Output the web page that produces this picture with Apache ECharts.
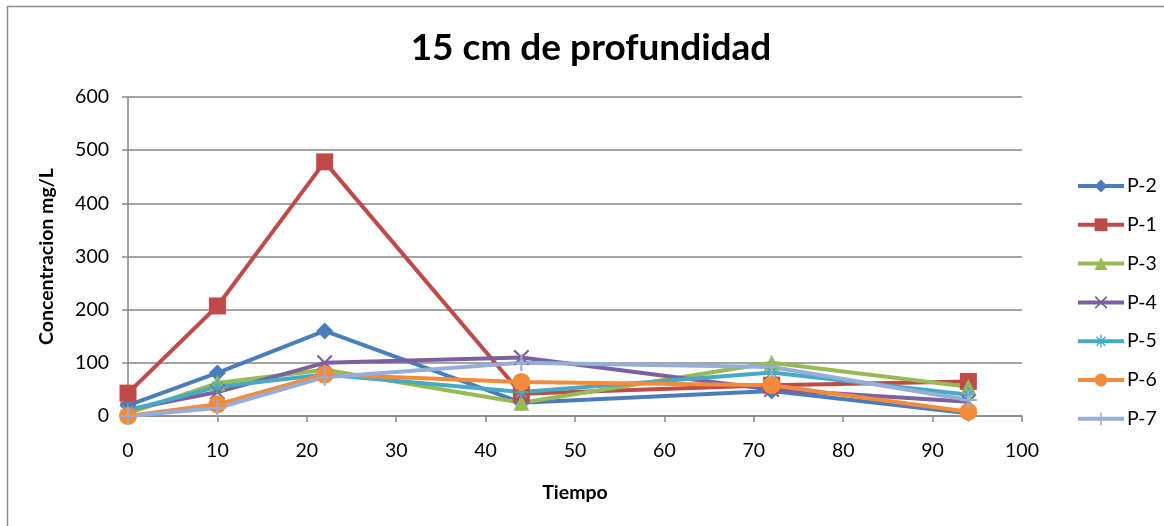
<!DOCTYPE html>
<html>
<head>
<meta charset="utf-8">
<script src="https://cdn.jsdelivr.net/npm/echarts@6/dist/echarts.min.js"></script>
<style>
  html, body { margin: 0; padding: 0; background: #fff; }
  #chart { width: 1164px; height: 526px; }
</style>
</head>
<body>
<div id="chart"></div>
<script>
// 数据 (tiempo / concentracion)
const tiempo = [0, 10, 22, 44, 72, 94]
const seriesNames = ['P-2', 'P-1', 'P-3', 'P-4', 'P-5', 'P-6', 'P-7']
const p2 = [20, 81, 160, 25, 47, 5]
const p1 = [43, 207, 478, 42, 58, 65]
const p3 = [5, 62, 87, 25, 100, 55]
const p4 = [12, 45, 100, 110, 50, 27]
const p5 = [10, 55, 78, 45, 82, 40]
const p6 = [0, 22, 78, 64, 58, 8]
const p7 = [0, 15, 73, 100, 92, 30]
const yTicks = [0, 100, 200, 300, 400, 500, 600]
const xTicks = [0, 10, 20, 30, 40, 50, 60, 70, 80, 90, 100]

const colors = ['#4A7EBB', '#BE4B48', '#98B954', '#7D60A0', '#46AAC5', '#F38B3C', '#95AED8']
const font = 'Lato, "Open Sans", sans-serif'

// 符号 (los marcadores tipo Excel)
const plusPath = 'path://M-1.2,-10 L1.2,-10 L1.2,10 L-1.2,10 Z M-10,-1.2 L10,-1.2 L10,1.2 L-10,1.2 Z'
const xPath = 'path://M-9,-7.3 L-7.3,-9 L9,7.3 L7.3,9 Z M7.3,-9 L9,-7.3 L-7.3,9 L-9,7.3 Z'
const starPath = 'path://M-1.1,-10 L1.1,-10 L1.1,10 L-1.1,10 Z M-10,-1.1 L10,-1.1 L10,1.1 L-10,1.1 Z M-7.8,-6.3 L-6.3,-7.8 L7.8,6.3 L6.3,7.8 Z M6.3,-7.8 L7.8,-6.3 L-6.3,7.8 L-7.8,6.3 Z'
const symbols = ['diamond', 'rect', 'triangle', xPath, starPath, 'circle', plusPath]
const symbolSizes = [17, 17, 16, 16, 15, 18, 17]
const allData = [p2, p1, p3, p4, p5, p6, p7]

const chart = echarts.init(document.getElementById('chart'))
chart.setOption({
  animation: false,
  color: colors,
  textStyle: { fontFamily: font },
  graphic: [
    {
      type: 'rect',
      shape: { x: 7.5, y: 6.5, width: 1200, height: 600 },
      style: { fill: 'none', stroke: '#8a8a8a', lineWidth: 1.5 }
    }
  ],
  title: {
    text: '15 cm de profundidad',
    left: 586,
    top: 25,
    textAlign: 'center',
    textStyle: { fontFamily: font, fontSize: 37, fontWeight: 'bold', color: '#000' }
  },
  legend: {
    data: seriesNames,
    orient: 'vertical',
    left: 1071,
    top: 171,
    itemWidth: 46,
    itemHeight: 16,
    itemGap: 18.8,
    lineStyle: { width: 4 },
    textStyle: { fontFamily: font, fontSize: 19.5, color: '#000', padding: [0, 0, 0, -2] }
  },
  grid: { left: 128, right: 142, top: 97, bottom: 110 },
  xAxis: {
    type: 'value',
    min: 0,
    max: 100,
    interval: 10,
    name: 'Tiempo',
    nameLocation: 'middle',
    nameGap: 67,
    nameTextStyle: { fontFamily: font, fontSize: 19.5, fontWeight: 'bold', color: '#000' },
    axisLine: { onZero: false, lineStyle: { color: '#868686', width: 1.5 } },
    axisTick: { show: true, length: 6, inside: false, lineStyle: { color: '#868686', width: 1.5 } },
    axisLabel: { margin: 25, fontFamily: font, fontSize: 19.5, color: '#000' },
    splitLine: { show: false }
  },
  yAxis: {
    type: 'value',
    min: 0,
    max: 600,
    interval: 100,
    name: 'Concentracion mg/L',
    nameLocation: 'middle',
    nameGap: 71,
    nameTextStyle: { fontFamily: font, fontSize: 19.5, fontWeight: 'bold', color: '#000' },
    axisLine: { show: true, lineStyle: { color: '#868686', width: 1.5 } },
    axisTick: { show: true, length: 6, inside: false, lineStyle: { color: '#868686', width: 1.5 } },
    axisLabel: { margin: 19, fontFamily: font, fontSize: 19.5, color: '#000' },
    splitLine: { show: true, lineStyle: { color: '#868686', width: 1.5 } }
  },
  series: seriesNames.map((name, i) => ({
    name: name,
    type: 'line',
    data: tiempo.map((t, j) => [t, allData[i][j]]),
    symbol: symbols[i],
    symbolSize: symbolSizes[i],
    showAllSymbol: true,
    lineStyle: { width: 4, color: colors[i] },
    itemStyle: { color: colors[i], borderWidth: 0 }
  }))
})
</script>
</body>
</html>
